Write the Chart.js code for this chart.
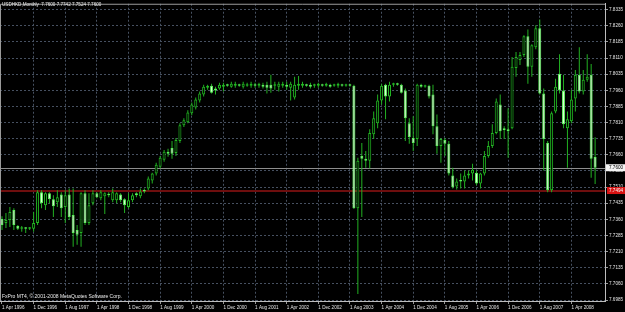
<!DOCTYPE html>
<html>
<head>
<meta charset="utf-8">
<title>USDHKD,Monthly</title>
<script src="https://cdn.jsdelivr.net/npm/chart.js@4.4.0/dist/chart.umd.min.js"></script>
<style>
    html, body { margin: 0; padding: 0; background: #000; }
    #wrap { width: 625px; height: 312px; background: #000; }
</style>
</head>
<body>
<div id="wrap"><canvas id="chart" width="625" height="312"></canvas></div>
<script>
// DATA (monthly candles, Apr 1996 ->)
var open = [
    7.7362, 7.7343, 7.7357, 7.7403, 7.7329, 7.7316, 7.7320, 7.7316, 7.7316, 7.7343,
    7.7486, 7.7426, 7.7481, 7.7453, 7.7440, 7.7476, 7.7417, 7.7476, 7.7380, 7.7311,
    7.7297, 7.7481, 7.7343, 7.7435, 7.7481, 7.7458, 7.7467, 7.7476, 7.7449, 7.7449,
    7.7476, 7.7453, 7.7417, 7.7449, 7.7481, 7.7467, 7.7495, 7.7504, 7.7541, 7.7573,
    7.7605, 7.7637, 7.7674, 7.7692, 7.7669, 7.7724, 7.7798, 7.7812, 7.7853, 7.7880,
    7.7913, 7.7940, 7.7972, 7.7981, 7.7968, 7.7968, 7.7977, 7.7986, 7.7977, 7.7981,
    7.7986, 7.7977, 7.7981, 7.7981, 7.7986, 7.7981, 7.7986, 7.7986, 7.7986, 7.7981,
    7.7977, 7.7981, 7.7986, 7.7972, 7.7926, 7.7981, 7.7981, 7.7986, 7.7986, 7.7981,
    7.7981, 7.7986, 7.7981, 7.7986, 7.7981, 7.7981, 7.7986, 7.7981, 7.7986, 7.7981,
    7.7412, 7.7655, 7.7642, 7.7633, 7.7756, 7.7807, 7.7913, 7.7986, 7.7931, 7.7986,
    7.7991, 7.7986, 7.7959, 7.7807, 7.7738, 7.7734, 7.7986, 7.7977, 7.7981, 7.7940,
    7.7793, 7.7701, 7.7729, 7.7711, 7.7564, 7.7513, 7.7541, 7.7536, 7.7564, 7.7573,
    7.7577, 7.7527, 7.7573, 7.7655, 7.7701, 7.7761, 7.7894, 7.7784, 7.7779, 7.7784,
    7.8064, 7.8101, 7.8124, 7.8211, 7.8069, 7.8160, 7.8248, 7.7945, 7.7715, 7.7495,
    7.7862, 7.8037, 7.7959, 7.7784, 7.7816, 7.7922, 7.8032, 7.7954, 7.8009, 7.8032,
    7.7650
];
var high = [
    7.7375, 7.7389, 7.7417, 7.7412, 7.7334, 7.7329, 7.7325, 7.7325, 7.7394, 7.7495,
    7.7495, 7.7486, 7.7486, 7.7472, 7.7495, 7.7486, 7.7495, 7.7504, 7.7504, 7.7334,
    7.7486, 7.7495, 7.7481, 7.7495, 7.7486, 7.7495, 7.7486, 7.7486, 7.7504, 7.7486,
    7.7481, 7.7458, 7.7481, 7.7481, 7.7486, 7.7504, 7.7504, 7.7559, 7.7577, 7.7623,
    7.7655, 7.7683, 7.7688, 7.7724, 7.7738, 7.7807, 7.7830, 7.7867, 7.7903, 7.7926,
    7.7954, 7.7986, 7.7986, 7.7991, 7.7977, 7.7995, 7.7995, 7.7991, 7.8000, 7.8000,
    7.7991, 7.8000, 7.7995, 7.8000, 7.7995, 7.7995, 7.7995, 7.8000, 7.8032, 7.8000,
    7.8000, 7.8000, 7.8000, 7.8000, 7.8023, 7.8027, 7.8000, 7.7991, 7.7995, 7.7991,
    7.7995, 7.7991, 7.7995, 7.7991, 7.7991, 7.7995, 7.7991, 7.7991, 7.7991, 7.7986,
    7.7646, 7.7715, 7.7678, 7.7779, 7.7862, 7.7940, 7.7991, 7.7991, 7.8000, 7.7995,
    7.7995, 7.7991, 7.7968, 7.7830, 7.7839, 7.7991, 7.7991, 7.7986, 7.7986, 7.7986,
    7.7848, 7.7738, 7.7738, 7.7724, 7.7600, 7.7550, 7.7573, 7.7587, 7.7587, 7.7619,
    7.7587, 7.7577, 7.7678, 7.7724, 7.7802, 7.7922, 7.7940, 7.7793, 7.7876, 7.8115,
    7.8138, 7.8138, 7.8216, 7.8243, 7.8174, 7.8262, 7.8289, 7.7968, 7.7724, 7.7862,
    7.8014, 7.8128, 7.8032, 7.7862, 7.7963, 7.8055, 7.8160, 7.8055, 7.8128, 7.8082,
    7.7742
];
var low = [
    7.7311, 7.7320, 7.7325, 7.7311, 7.7311, 7.7302, 7.7297, 7.7311, 7.7302, 7.7334,
    7.7412, 7.7403, 7.7435, 7.7371, 7.7417, 7.7371, 7.7343, 7.7357, 7.7233, 7.7242,
    7.7233, 7.7334, 7.7334, 7.7426, 7.7458, 7.7449, 7.7385, 7.7463, 7.7440, 7.7435,
    7.7440, 7.7389, 7.7412, 7.7440, 7.7463, 7.7458, 7.7481, 7.7495, 7.7527, 7.7564,
    7.7596, 7.7628, 7.7651, 7.7642, 7.7655, 7.7715, 7.7789, 7.7807, 7.7844, 7.7871,
    7.7903, 7.7931, 7.7963, 7.7945, 7.7940, 7.7963, 7.7954, 7.7977, 7.7972, 7.7972,
    7.7977, 7.7968, 7.7977, 7.7972, 7.7972, 7.7972, 7.7968, 7.7945, 7.7949, 7.7963,
    7.7954, 7.7972, 7.7963, 7.7913, 7.7917, 7.7963, 7.7972, 7.7977, 7.7968, 7.7972,
    7.7972, 7.7977, 7.7977, 7.7972, 7.7977, 7.7972, 7.7977, 7.7977, 7.7977, 7.7408,
    7.7013, 7.7371, 7.7600, 7.7596, 7.7734, 7.7784, 7.7894, 7.7825, 7.7908, 7.7977,
    7.7981, 7.7945, 7.7724, 7.7711, 7.7678, 7.7701, 7.7972, 7.7972, 7.7922, 7.7756,
    7.7665, 7.7623, 7.7655, 7.7564, 7.7504, 7.7499, 7.7504, 7.7504, 7.7550, 7.7541,
    7.7518, 7.7504, 7.7564, 7.7646, 7.7692, 7.7756, 7.7734, 7.7734, 7.7646, 7.7779,
    7.8023, 7.8078, 7.8115, 7.7991, 7.8023, 7.8151, 7.7940, 7.7587, 7.7486, 7.7486,
    7.7853, 7.7945, 7.7784, 7.7600, 7.7807, 7.7862, 7.7945, 7.7940, 7.8000, 7.7554,
    7.7524
];
var close = [
    7.7334, 7.7357, 7.7394, 7.7334, 7.7316, 7.7320, 7.7316, 7.7320, 7.7343, 7.7486,
    7.7435, 7.7481, 7.7453, 7.7421, 7.7463, 7.7412, 7.7472, 7.7371, 7.7297, 7.7288,
    7.7481, 7.7343, 7.7426, 7.7481, 7.7463, 7.7486, 7.7481, 7.7472, 7.7486, 7.7481,
    7.7449, 7.7426, 7.7449, 7.7472, 7.7472, 7.7490, 7.7490, 7.7550, 7.7573, 7.7614,
    7.7646, 7.7674, 7.7665, 7.7665, 7.7729, 7.7798, 7.7821, 7.7857, 7.7894, 7.7917,
    7.7945, 7.7977, 7.7981, 7.7949, 7.7959, 7.7986, 7.7986, 7.7981, 7.7991, 7.7991,
    7.7981, 7.7991, 7.7986, 7.7991, 7.7981, 7.7991, 7.7977, 7.7972, 7.7968, 7.7986,
    7.7991, 7.7991, 7.7977, 7.7991, 7.7986, 7.7991, 7.7991, 7.7981, 7.7977, 7.7986,
    7.7991, 7.7981, 7.7991, 7.7977, 7.7986, 7.7991, 7.7981, 7.7986, 7.7981, 7.7412,
    7.7633, 7.7642, 7.7633, 7.7761, 7.7830, 7.7913, 7.7981, 7.7931, 7.7986, 7.7991,
    7.7986, 7.7949, 7.7830, 7.7743, 7.7715, 7.7986, 7.7977, 7.7981, 7.7931, 7.7793,
    7.7701, 7.7734, 7.7711, 7.7573, 7.7509, 7.7536, 7.7536, 7.7564, 7.7573, 7.7591,
    7.7527, 7.7573, 7.7655, 7.7701, 7.7761, 7.7908, 7.7770, 7.7775, 7.7770, 7.8069,
    7.8115, 7.8124, 7.8211, 7.8069, 7.8170, 7.8248, 7.7945, 7.7734, 7.7495, 7.7853,
    7.7977, 7.7959, 7.7802, 7.7825, 7.7917, 7.8032, 7.7954, 7.8009, 7.8023, 7.7642,
    7.7600
];

// price scale levels shown on the right
var yTicks = [
    7.6985, 7.7060, 7.7135, 7.7210, 7.7285, 7.7360, 7.7435, 7.7510, 7.7585, 7.7660,
    7.7735, 7.7810, 7.7885, 7.7960, 7.8035, 7.8110, 7.8185, 7.8260, 7.8335
];
var bidLevel = 7.7600;
var alertLevel = 7.7494;
var titleText = 'USDHKD,Monthly  7.7600 7.7742 7.7524 7.7600';
var footerText = 'FxPro MT4, \u00A9 2001-2008 MetaQuotes Software Corp.';

// categories: one per month, two empty slots at the right edge
var monthNames = ['Jan', 'Feb', 'Mar', 'Apr', 'May', 'Jun', 'Jul', 'Aug', 'Sep', 'Oct', 'Nov', 'Dec'];
var categories = [];
for (var k = 0; k < close.length + 2; k++) {
    var mi = 3 + k;
    categories.push('1 ' + monthNames[mi % 12] + ' ' + (1996 + Math.floor(mi / 12)));
}
var labelEvery = 8;

// CANDLES
var wicks = low.map(function (l, i) { return [l, high[i]]; });
var bodies = open.map(function (o, i) { return [o, close[i]]; });
var bodyFill = open.map(function (o, i) { return close[i] < o ? '#e2ffdc' : '#000000'; });
var bodyEdge = open.map(function (o, i) { return close[i] < o ? '#5cf05c' : '#22b822'; });

var gridColor = '#465060';
var axisText = '#e4e4e4';
var font = '"Liberation Sans", Arial, sans-serif';
Chart.defaults.font.family = font;

var overlay = {
    id: 'overlay',
    beforeDatasetsDraw: function (chart) {
        var ctx = chart.ctx, a = chart.chartArea, y = chart.scales.y;
        ctx.save();
        // bid line
        var yb = Math.round(y.getPixelForValue(bidLevel)) + 0.5;
        ctx.strokeStyle = '#8e8e8e';
        ctx.lineWidth = 1;
        ctx.beginPath(); ctx.moveTo(a.left, yb); ctx.lineTo(a.right, yb); ctx.stroke();
        // red level
        var yr = Math.round(y.getPixelForValue(alertLevel));
        ctx.strokeStyle = '#6e0e0e';
        ctx.lineWidth = 2;
        ctx.beginPath(); ctx.moveTo(a.left, yr); ctx.lineTo(a.right, yr); ctx.stroke();
        ctx.restore();
    },
    afterDraw: function (chart) {
        var ctx = chart.ctx, a = chart.chartArea, y = chart.scales.y;
        ctx.save();
        // frame left / top
        ctx.strokeStyle = '#9a9a9a';
        ctx.lineWidth = 1;
        ctx.beginPath();
        ctx.moveTo(a.left + 0.5, a.bottom); ctx.lineTo(a.left + 0.5, a.top + 0.5); ctx.lineTo(a.right, a.top + 0.5);
        ctx.stroke();

        // price boxes
        ctx.font = '4.6px ' + font;
        ctx.textBaseline = 'middle';
        ctx.textAlign = 'left';
        var yb = y.getPixelForValue(bidLevel);
        ctx.fillStyle = '#f4f4f4';
        ctx.fillRect(a.right + 1, yb - 3.5, 19, 7);
        ctx.fillStyle = '#000';
        ctx.fillText(bidLevel.toFixed(4), a.right + 4, yb);
        var yr = y.getPixelForValue(alertLevel);
        ctx.fillStyle = '#d81212';
        ctx.fillRect(a.right + 2, yr - 3.5, 18, 7);
        ctx.fillStyle = '#fff';
        ctx.fillText(alertLevel.toFixed(4), a.right + 4, yr);

        // texts
        ctx.textBaseline = 'top';
        ctx.fillStyle = '#ececec';
        ctx.font = '4.6px ' + font;
        ctx.fillText(titleText, 2, 2.5);
        ctx.font = '5px ' + font;
        ctx.fillText(footerText, 2, 294);
        ctx.restore();
    }
};

// CHART
new Chart(document.getElementById('chart'), {
    type: 'bar',
    data: {
        labels: categories,
        datasets: [{
            label: 'body',
            data: bodies,
            backgroundColor: bodyFill,
            borderColor: bodyEdge,
            borderWidth: 1,
            borderSkipped: false,
            barThickness: 3,
            minBarLength: 1.5,
            inflateAmount: 0,
            grouped: false,
            order: 0
        }, {
            label: 'wick',
            data: wicks,
            backgroundColor: '#22b022',
            borderWidth: 0,
            barThickness: 1,
            inflateAmount: 0,
            grouped: false,
            order: 1
        }]
    },
    options: {
        responsive: false,
        animation: false,
        layout: { padding: 0 },
        plugins: {
            legend: { display: false },
            tooltip: { enabled: false },
            title: { display: false }
        },
        scales: {
            x: {
                offset: true,
                afterFit: function (scale) { scale.height = 11; },
                ticks: {
                    autoSkip: false,
                    maxRotation: 0,
                    minRotation: 0,
                    align: 'start',
                    padding: 1,
                    color: axisText,
                    font: { size: 4.6 },
                    callback: function (value, index) {
                        return (index % labelEvery === 0 && index < close.length) ? this.getLabelForValue(value) : '';
                    }
                },
                grid: {
                    offset: false,
                    color: function (c) {
                        return (c.index % labelEvery === 0 && c.index > 0 && c.index < close.length) ? gridColor : 'transparent';
                    },
                    tickColor: function (c) {
                        return (c.index % labelEvery === 0 && c.index < close.length) ? '#9a9a9a' : 'transparent';
                    },
                    tickLength: 3,
                    tickBorderDash: []
                },
                border: { display: true, color: '#bdbdbd', dash: [2, 2] }
            },
            y: {
                position: 'right',
                min: 7.69804,
                max: 7.83624,
                afterBuildTicks: function (scale) {
                    scale.ticks = yTicks.map(function (v) { return { value: v }; });
                },
                afterFit: function (scale) { scale.width = 20; },
                ticks: {
                    autoSkip: false,
                    padding: 1,
                    color: axisText,
                    font: { size: 4.6 },
                    callback: function (v) { return Number(v).toFixed(4); }
                },
                grid: {
                    color: gridColor,
                    tickColor: '#9a9a9a',
                    tickLength: 3,
                    tickBorderDash: []
                },
                border: { display: true, color: '#bdbdbd', dash: [2, 2] }
            }
        }
    },
    plugins: [overlay]
});
</script>
</body>
</html>
